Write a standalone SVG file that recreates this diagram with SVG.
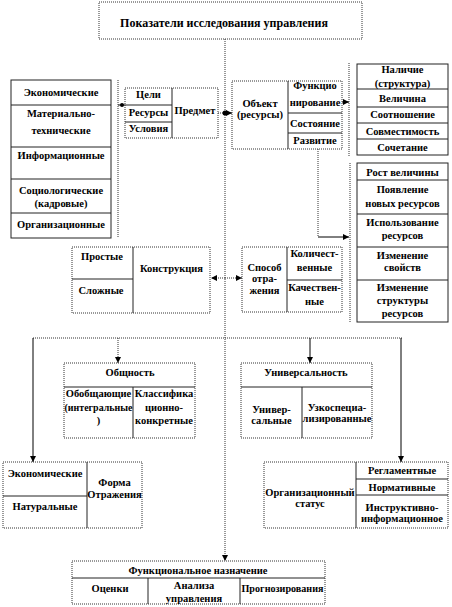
<svg xmlns="http://www.w3.org/2000/svg" width="452" height="607" viewBox="0 0 452 607">
<style>
text{font-family:"Liberation Serif","Times New Roman",serif;font-weight:bold;font-size:10.5px;text-anchor:middle;fill:#000}
.t{font-size:12px}
.box{fill:#fff;stroke:#333;stroke-width:1;stroke-dasharray:1,1}
.sbox{fill:#fff;stroke:#222;stroke-width:1}
.dv{stroke:#222;stroke-width:1;fill:none}
.dot{stroke:#333;stroke-width:1;stroke-dasharray:1,1;fill:none}
.sol{stroke:#000;stroke-width:1;fill:none}
</style>
<defs>
<marker id="ar" viewBox="0 0 6 6" refX="6" refY="3" markerWidth="6" markerHeight="6" markerUnits="userSpaceOnUse" orient="auto"><path d="M0,0L6,3L0,6z" fill="#000"/></marker>
</defs>
<g id="connectors">
<line class="dot" x1="225" y1="39" x2="225" y2="561" marker-end="url(#ar)"/>
<line class="dot" x1="225" y1="113" x2="218" y2="113"/>
<circle cx="225" cy="113" r="2.5" fill="#000"/>
<line class="sol" x1="125" y1="105" x2="118" y2="105"/>
<circle cx="122" cy="105" r="2" fill="#000"/>
<line class="dot" x1="118" y1="80" x2="118" y2="238"/>
<line class="sol" x1="226" y1="113" x2="232" y2="113" marker-end="url(#ar)"/>
<line class="sol" x1="342" y1="102" x2="349" y2="102" marker-end="url(#ar)"/>
<line class="dot" x1="349" y1="63" x2="349" y2="157"/>
<line class="dot" x1="350" y1="163" x2="350" y2="323"/>
<polyline class="dot" points="318,149 318,237"/>
<line class="sol" x1="318" y1="237" x2="349" y2="237" marker-end="url(#ar)"/>
<line class="dot" x1="225" y1="278" x2="211" y2="278" marker-end="url(#ar)"/>
<line class="dot" x1="225" y1="278" x2="242" y2="278" marker-end="url(#ar)"/>
<line class="dot" x1="33" y1="338" x2="402" y2="338"/>
<line class="sol" x1="33" y1="338" x2="33" y2="462" marker-end="url(#ar)"/>
<line class="sol" x1="401" y1="338" x2="401" y2="462" marker-end="url(#ar)"/>
<line class="dot" x1="118" y1="338" x2="118" y2="363" marker-end="url(#ar)"/>
<line class="sol" x1="310" y1="338" x2="310" y2="363" marker-end="url(#ar)"/>
</g>
<g id="title">
<rect class="box" x="99" y="2" width="263" height="37"/>
<text class="t" x="224" y="27">Показатели исследования управления</text>
</g>
<g id="left-types">
<rect class="sbox" x="11" y="80" width="100" height="158"/>
<path class="dv" d="M11,105H111M11,147H111M11,179H111M11,213H111"/>
<text x="61" y="96">Экономические</text>
<text x="61" y="117">Материально-</text>
<text x="61" y="134">технические</text>
<text x="61" y="159">Информационные</text>
<text x="61" y="194">Социологические</text>
<text x="61" y="207">(кадровые)</text>
<text x="61" y="228">Организационные</text>
</g>
<g id="predmet">
<rect class="box" x="125" y="88" width="93" height="50"/>
<path class="dv" d="M172,88V138M125,105H172M125,122H172"/>
<text x="148.5" y="98">Цели</text>
<text x="148.5" y="116">Ресурсы</text>
<text x="148.5" y="132">Условия</text>
<text x="195" y="114">Предмет</text>
</g>
<g id="object">
<rect class="box" x="232" y="81" width="110" height="68"/>
<path class="dv" d="M288,81V149M288,113H342M288,133H342"/>
<text x="260" y="107">Объект</text>
<text x="260" y="118">(ресурсы)</text>
<text x="315" y="89">Функцио</text>
<text x="315" y="106">нирование</text>
<text x="315" y="127">Состояние</text>
<text x="315" y="144">Развитие</text>
</g>
<g id="state-list">
<rect class="sbox" x="357" y="64" width="91" height="91"/>
<path class="dv" d="M357,89H448M357,107H448M357,123H448M357,139H448"/>
<text x="402.5" y="73">Наличие</text>
<text x="402.5" y="87">(структура)</text>
<text x="402.5" y="102">Величина</text>
<text x="402.5" y="118">Соотношение</text>
<text x="402.5" y="135">Совместимость</text>
<text x="402.5" y="151">Сочетание</text>
</g>
<g id="development-list">
<rect class="sbox" x="357" y="163" width="91" height="159"/>
<path class="dv" d="M357,180H448M357,214H448M357,247H448M357,280H448"/>
<text x="402.5" y="176">Рост величины</text>
<text x="402.5" y="193">Появление</text>
<text x="402.5" y="207">новых ресурсов</text>
<text x="402.5" y="226">Использование</text>
<text x="402.5" y="239">ресурсов</text>
<text x="402.5" y="259">Изменение</text>
<text x="402.5" y="271">свойств</text>
<text x="402.5" y="291">Изменение</text>
<text x="402.5" y="304">структуры</text>
<text x="402.5" y="317">ресурсов</text>
</g>
<g id="construction">
<rect class="box" x="72" y="247" width="138" height="66"/>
<path class="dv" d="M133,247V313M72,279H133"/>
<text x="102" y="260">Простые</text>
<text x="101" y="294">Сложные</text>
<text x="171.5" y="272">Конструкция</text>
</g>
<g id="reflection">
<rect class="box" x="242" y="247" width="100" height="65"/>
<path class="dv" d="M287,247V312M287,280H342"/>
<text x="264.5" y="271">Способ</text>
<text x="264.5" y="282">отра-</text>
<text x="264.5" y="294">жения</text>
<text x="314.5" y="257">Количест-</text>
<text x="314.5" y="271">венные</text>
<text x="314.5" y="291">Качествен-</text>
<text x="314.5" y="305">ные</text>
</g>
<g id="generality">
<rect class="box" x="64" y="363" width="131" height="75"/>
<path class="dv" d="M64,387H195M133,387V438"/>
<text x="130" y="376">Общность</text>
<text x="98.5" y="397">Обобщающие</text>
<text x="98.5" y="411" textLength="68" lengthAdjust="spacingAndGlyphs">(интегральные</text>
<text x="98.5" y="424">)</text>
<text x="164" y="397">Классифика</text>
<text x="164" y="411">ционно-</text>
<text x="164" y="424">конкретные</text>
</g>
<g id="universality">
<rect class="box" x="241" y="363" width="131" height="75"/>
<path class="dv" d="M241,387H372M302,387V438"/>
<text x="306" y="376">Универсальность</text>
<text x="271.5" y="413">Универ-</text>
<text x="271.5" y="424">сальные</text>
<text x="337" y="411">Узкоспециа-</text>
<text x="337" y="422">лизированные</text>
</g>
<g id="form">
<rect class="box" x="3" y="462" width="139" height="66"/>
<path class="dv" d="M87,462V528M3,496H87"/>
<text x="45" y="477">Экономические</text>
<text x="45" y="510">Натуральные</text>
<text x="114.5" y="486">Форма</text>
<text x="114.5" y="498">Отражения</text>
</g>
<g id="status">
<rect class="box" x="264" y="462" width="184" height="66"/>
<path class="dv" d="M356,462V528M356,479H448M356,495H448"/>
<text x="310" y="496">Организационный</text>
<text x="310" y="507">статус</text>
<text x="402" y="474">Регламентные</text>
<text x="402" y="491">Нормативные</text>
<text x="402" y="511">Инструктивно-</text>
<text x="402" y="522">информационное</text>
</g>
<g id="function">
<rect class="box" x="72" y="561" width="253" height="43"/>
<path class="dv" d="M72,578H325M148,578V604M240,578V604"/>
<text x="198" y="574">Функциональное назначение</text>
<text x="110" y="592">Оценки</text>
<text x="194" y="589">Анализа</text>
<text x="194" y="602">управления</text>
<text x="282.5" y="592" textLength="82" lengthAdjust="spacingAndGlyphs">Прогнозирования</text>
</g>
</svg>
